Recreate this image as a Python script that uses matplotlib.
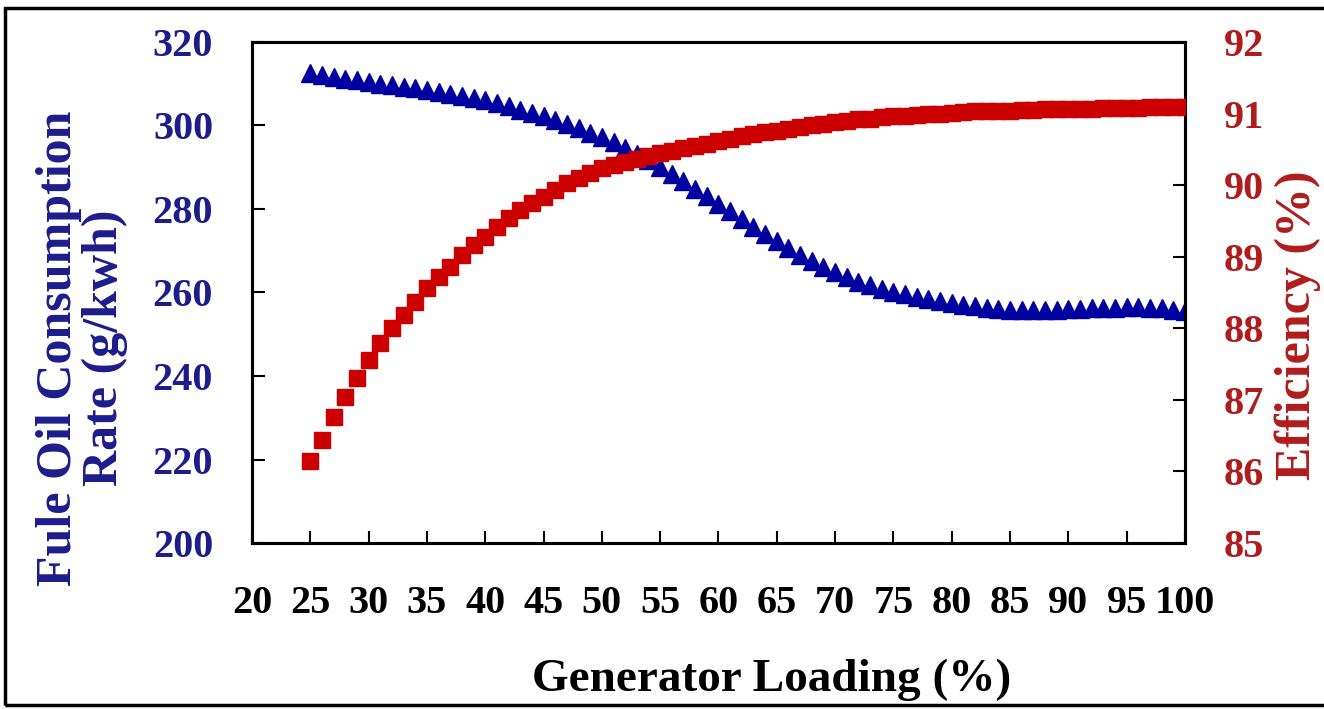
import matplotlib
matplotlib.use("Agg")
import matplotlib.pyplot as plt
from matplotlib.patches import Rectangle

# generator loading (%), one point per percent
loading = list(range(25, 101))

fuel_rate = [
    312.5, 312.1, 311.6, 311.2, 310.8, 310.4, 310.0, 309.7, 309.3, 308.9,
    308.5, 308.1, 307.6, 307.1, 306.6, 306.0, 305.3, 304.6, 303.8, 303.0,
    302.2, 301.3, 300.4, 299.4, 298.3, 297.2, 296.0, 294.7, 293.2, 291.7,
    290.0, 288.3, 286.6, 284.8, 283.0, 281.2, 279.4, 277.6, 275.8, 274.0,
    272.3, 270.6, 269.0, 267.5, 266.1, 264.8, 263.7, 262.6, 261.7, 260.9,
    260.2, 259.6, 259.0, 258.5, 258.0, 257.5, 257.1, 256.7, 256.4, 256.1,
    255.9, 255.7, 255.7, 255.8, 255.9, 256.0, 256.1, 256.2, 256.3, 256.4,
    256.5, 256.5, 256.4, 256.2, 255.9, 255.5,
]

efficiency = [
    86.14, 86.44, 86.76, 87.04, 87.30, 87.56, 87.79, 88.00, 88.19, 88.37,
    88.56, 88.72, 88.86, 89.02, 89.16, 89.28, 89.42, 89.54, 89.65, 89.75,
    89.84, 89.93, 90.03, 90.10, 90.17, 90.24, 90.28, 90.33, 90.37, 90.41,
    90.45, 90.48, 90.52, 90.55, 90.58, 90.62, 90.65, 90.68, 90.71, 90.74,
    90.76, 90.79, 90.81, 90.84, 90.86, 90.88, 90.90, 90.92, 90.93, 90.95,
    90.96, 90.97, 90.98, 90.99, 91.00, 91.01, 91.02, 91.03, 91.03, 91.04,
    91.04, 91.05, 91.05, 91.06, 91.06, 91.07, 91.07, 91.07, 91.08, 91.08,
    91.08, 91.08, 91.09, 91.09, 91.09, 91.09,
]

x_ticks = list(range(20, 101, 5))
left_ticks = list(range(200, 321, 20))
right_ticks = list(range(85, 93))

BLUE = "#0000a0"
RED = "#cc0000"
BLUE_TXT = "#1c1c8c"
RED_TXT = "#b01c1c"
FONT = "Liberation Serif"

plt.rcParams["font.family"] = FONT
plt.rcParams["font.weight"] = "bold"

fig = plt.figure(figsize=(13.24, 7.09), dpi=100)
ax = fig.add_axes([0.1903, 0.2341, 0.895 - 0.1903, 0.9408 - 0.2341])
ax2 = ax.twinx()

ax.plot(loading, fuel_rate, linestyle="none", marker="^", markersize=13,
        color=BLUE, markeredgecolor=BLUE, zorder=3)
ax2.plot(loading, efficiency, linestyle="none", marker="s", markersize=11,
         color=RED, markeredgecolor=RED, zorder=3)

ax.set_xlim(20, 100)
ax.set_ylim(200, 320)
ax2.set_ylim(85, 92)
ax.set_xticks(x_ticks)
ax.set_yticks(left_ticks)
ax2.set_yticks(right_ticks)

for a in (ax, ax2):
    for s in a.spines.values():
        s.set_linewidth(2.2)

ax.tick_params(axis="x", direction="in", length=9, width=1.5, pad=30,
               labelsize=29, labelcolor="black")
ax.tick_params(axis="y", direction="in", length=9, width=1.5, pad=28,
               labelsize=29, labelcolor=BLUE_TXT)
ax2.tick_params(axis="y", direction="in", length=9, width=1.5, pad=28,
                labelsize=29, labelcolor=RED_TXT)

for lab in ax.get_xticklabels() + ax.get_yticklabels() + ax2.get_yticklabels():
    lab.set_fontweight("bold")

fig.text(772 / 1324, 1 - 680 / 709, "Generator Loading (%)", ha="center",
         va="center", fontsize=34, fontweight="bold", color="black")
fig.text(82 / 1324, 1 - 348 / 709, "Fule Oil Consumption\nRate (g/kwh)",
         rotation=90, ha="center", va="center", multialignment="center",
         fontsize=36, fontweight="bold", color=BLUE_TXT, linespacing=1.0)
fig.text(1298 / 1324, 1 - 325 / 709, "Efficiency (%)", rotation=90,
         ha="center", va="center", fontsize=36, fontweight="bold",
         color=RED_TXT)

# outer frame of the picture
fig.patches.append(Rectangle((0.004, 0.005), 1.05, 0.984, transform=fig.transFigure,
                             fill=False, edgecolor="black", linewidth=2.5))

fig.savefig("out.png", dpi=100)
